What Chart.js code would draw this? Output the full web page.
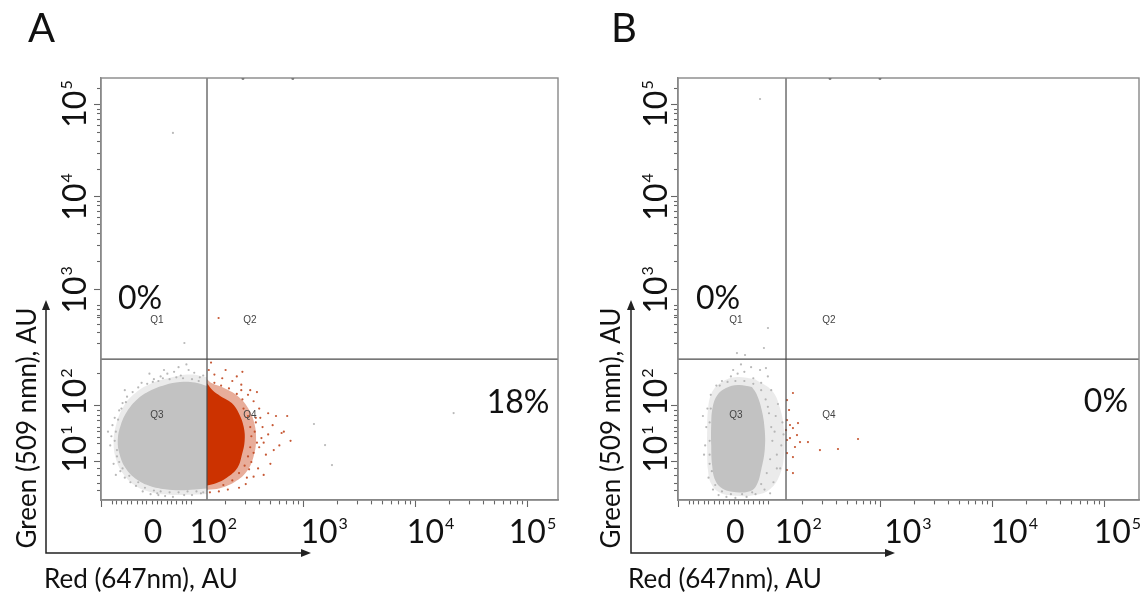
<!DOCTYPE html>
<html>
<head>
<meta charset="utf-8">
<script src="https://cdn.jsdelivr.net/npm/chart.js@4.4.1/dist/chart.umd.min.js"></script>
<style>
  html, body { margin: 0; padding: 0; background: #fff; }
  #wrap { position: relative; width: 1147px; height: 597px; overflow: hidden; }
  canvas { position: absolute; top: 0; }
</style>
</head>
<body>
<div id="wrap">
  <canvas id="panelA" width="580" height="597" style="left:0"></canvas>
  <canvas id="panelB" width="567" height="597" style="left:580px"></canvas>
</div>
<script>
// all positions are in decades of the logicle display (10^2 -> 2, 10^3 -> 3 ...)

// axis ticks
const xMajorTicks = [1.196, 3, 4, 5];
const xMinorTicks = [1.286, 1.330, 1.375, 1.420, 1.464, 1.509, 1.554, 1.598, 1.643, 1.688, 1.732, 1.777,
  1.821, 1.866, 1.911, 1.955, 2.0,
  2.301, 2.477, 2.602, 2.699, 2.778, 2.845, 2.903, 2.954,
  3.301, 3.477, 3.602, 3.699, 3.778, 3.845, 3.903, 3.954,
  4.301, 4.477, 4.602, 4.699, 4.778, 4.845, 4.903, 4.954];
const yMajorTicks = [5, 4, 3, 1.739, 1.12];
const yMinorTicks = [5.176,
  4.301, 4.477, 4.602, 4.699, 4.778, 4.845, 4.903, 4.954,
  3.301, 3.477, 3.602, 3.699, 3.778, 3.845, 3.903, 3.954,
  2.826, 2.772, 2.717, 2.685, 2.609, 2.522, 2.413, 2.087,
  1.685, 1.630, 1.576, 1.5, 1.446, 1.391, 1.326, 1.217,
  1.054, 0.978, 0.891, 0.815];

// tick labels (typed over the plot, not exactly on the ticks)
const tickBase = ['0', '10', '10', '10', '10'];
const xTickExp = ['', '2', '3', '4', '5'];
const yTickBase = ['10', '10', '10', '10', '10'];
const yTickExp = ['5', '4', '3', '2', '1'];
const xLabelPosA = [1.652, 2.19, 3.18, 4.13, 5.04];
const xLabelPosB = [1.70, 2.26, 3.24, 4.19, 5.11];
const yLabelPos = [5.01, 4.0, 2.99, 1.88, 1.26];

const quadrantNames = ['Q1', 'Q2', 'Q3', 'Q4'];
const percentA = ['0%', '18%'];
const percentB = ['0%', '0%'];
const gateX = [2.134, 2.152];
const gateY = [2.239, 2.239];

// panel A: dense part of the cloud (outline) and the lighter rim
const grayHaloA = [[2.134,2.04],[1.982,2.07],[1.804,2.035],[1.625,1.968],[1.480,1.855],[1.380,1.705],
  [1.322,1.522],[1.300,1.337],[1.322,1.150],[1.382,0.998],[1.485,0.870],[1.625,0.795],[1.804,0.765],
  [1.982,0.765],[2.134,0.772]];
const grayCoreA = [[2.134,1.945],[2.027,1.985],[1.893,1.99],[1.759,1.958],[1.625,1.895],[1.512,1.803],
  [1.420,1.670],[1.364,1.522],[1.337,1.359],[1.355,1.196],[1.410,1.048],[1.500,0.935],[1.625,0.858],
  [1.759,0.823],[1.893,0.812],[2.027,0.822],[2.134,0.832]];
const redHaloA = [[2.134,0.818],[2.25,0.835],[2.384,0.905],[2.49,1.02],[2.55,1.18],[2.572,1.359],
  [2.556,1.543],[2.500,1.707],[2.405,1.840],[2.286,1.925],[2.179,1.975],[2.134,2.02]];
const redCoreA = [[2.134,0.865],[2.214,0.890],[2.310,0.950],[2.405,1.055],[2.445,1.196],[2.470,1.348],
  [2.462,1.5],[2.420,1.645],[2.355,1.760],[2.255,1.835],[2.179,1.905],[2.134,1.975]];
const graySpecksA = [[1.28,1.40],[1.27,1.30],[1.29,1.52],[1.31,1.60],[1.33,1.18],[1.30,1.10],[1.35,1.68],
  [1.38,1.76],[1.36,1.02],[1.40,0.95],[1.45,0.90],[1.42,1.83],[1.47,1.88],[1.52,1.93],[1.50,0.86],
  [1.56,0.80],[1.60,1.97],[1.66,2.02],[1.63,0.77],[1.70,0.76],[1.72,2.05],[1.78,2.08],[1.76,0.75],
  [1.84,2.10],[1.83,0.74],[1.90,2.06],[1.93,0.76],[1.97,2.12],[2.02,2.09],[2.00,0.76],[2.07,2.04],
  [2.08,0.78],[1.88,2.15],[1.75,2.12],[1.55,1.98],[1.25,1.45],[1.32,0.98],[1.95,2.18],[1.62,2.08],
  [1.40,1.90],[1.65,1.99],[1.70,2.00],[1.80,2.02],[1.86,2.04],[1.92,2.03],[2.00,2.02],[2.06,2.00],
  [2.10,2.06],[1.74,2.03],[1.32,1.45],[1.31,1.35],[1.33,1.25],[1.34,1.58],[1.37,1.70],[1.41,1.77],
  [1.35,1.12],[1.38,1.05],[1.44,0.97],[1.52,0.90],[1.58,0.84],[1.66,0.81],[1.72,0.80],[1.80,0.79],
  [1.88,0.79],[1.96,0.80],[2.04,0.80],[2.10,0.79],[1.69,0.78],
  [1.932,2.413],[3.089,1.533],[3.188,1.304],[3.25,1.087],[4.336,1.652],[1.83,4.696]];
const redSpecksA = [[2.50,1.85],[2.55,1.78],[2.60,1.70],[2.57,1.60],[2.63,1.50],[2.68,1.42],[2.72,1.52],
  [2.60,1.28],[2.66,1.20],[2.70,1.10],[2.59,1.05],[2.55,0.96],[2.48,0.88],[2.42,0.84],[2.32,0.82],
  [2.82,1.45],[2.85,1.62],[2.78,1.30],[2.64,0.98],[2.52,1.90],[2.44,1.96],[2.36,2.00],[2.27,2.03],
  [2.20,2.07],[2.15,2.12],[2.30,2.12],[2.40,2.05],[2.17,2.20],[2.62,1.38],[2.75,1.62],[2.53,1.12],
  [2.58,1.88],[2.45,2.10],[2.24,0.80],[2.16,0.79],[2.68,1.65],[2.73,1.25],[2.88,1.35],[2.80,1.435],
  [2.46,1.70],[2.50,1.62],[2.52,1.50],[2.53,1.40],[2.52,1.28],[2.50,1.18],[2.47,1.08],[2.42,1.00],
  [2.36,0.92],[2.28,0.87],[2.45,1.80],[2.40,1.86],[2.33,1.92],[2.26,1.95],[2.20,1.98],[2.56,1.45],
  [2.58,1.33],[2.55,1.22],[2.49,0.95],[2.57,1.55],[2.61,1.60],[2.64,1.33],[2.51,1.04],[2.44,1.90],
  [2.2375,2.685]];
const edgeDotsA = [[2.455,5.29],[2.90,5.29]];

// panel B
const grayHaloB = [[1.875,2.02],[1.696,2.04],[1.5625,1.975],[1.485,1.860],[1.455,1.685],[1.448,1.467],
  [1.448,1.25],[1.455,1.033],[1.485,0.880],[1.5625,0.785],[1.705,0.752],[1.875,0.762],[2.009,0.825],
  [2.098,0.985],[2.134,1.196],[2.134,1.467],[2.098,1.707],[2.027,1.895],[1.875,2.02]];
const grayCoreB = [[1.848,1.935],[1.723,1.956],[1.616,1.923],[1.538,1.845],[1.496,1.707],[1.484,1.522],
  [1.484,1.304],[1.492,1.087],[1.522,0.915],[1.590,0.826],[1.705,0.792],[1.830,0.802],[1.890,0.870],
  [1.930,1.033],[1.962,1.25],[1.962,1.467],[1.935,1.685],[1.890,1.855],[1.848,1.935]];
const graySpecksB = [[1.44,1.50],[1.43,1.30],[1.45,1.70],[1.47,1.10],[1.46,0.95],[1.50,0.82],[1.48,1.85],
  [1.53,1.95],[1.58,2.00],[1.55,0.76],[1.62,0.74],[1.66,2.05],[1.72,2.08],[1.70,0.73],[1.78,2.10],
  [1.80,0.74],[1.86,2.03],[1.88,0.77],[1.93,1.98],[1.96,0.82],[2.02,1.90],[2.04,0.90],[2.08,1.75],
  [2.10,1.05],[2.12,1.55],[2.11,1.30],[2.06,1.62],[2.07,1.20],[1.99,2.05],[1.84,2.15],[1.75,2.18],
  [1.68,2.12],[1.92,2.12],[1.41,1.62],[1.42,1.20],[2.13,1.42],[2.01,0.78],[1.59,0.70],
  [1.47,1.55],[1.47,1.35],[1.47,1.20],[1.48,1.70],[1.49,1.02],[1.52,0.87],[1.56,1.95],[1.63,1.99],
  [1.70,2.00],[1.78,2.00],[1.86,1.97],[1.93,1.90],[1.97,1.80],[2.00,1.65],[2.02,1.50],[2.03,1.35],
  [2.01,1.15],[1.98,1.00],[1.93,0.88],[1.85,0.79],[1.76,0.77],[1.66,0.77],[1.58,0.80],[2.05,1.45],
  [2.07,1.05],[1.99,1.72],
  [1.714,2.304],[1.786,2.283],[1.991,2.576],[1.955,2.359],[1.973,2.141],[1.92,5.065]];
const redSpecksB = [[2.214,1.870],[2.161,1.576],[2.1875,1.522],[2.214,1.489],[2.259,1.543],[2.25,1.413],
  [2.161,1.359],[2.1875,1.380],[2.277,1.337],[2.232,1.283],[2.348,1.337],[2.161,1.217],[2.214,1.174],
  [2.455,1.25],[2.616,1.261],[2.795,1.370],[2.161,1.033],[2.214,1.0],[2.161,1.793],[2.179,1.685],
  [2.152,1.467]];
const edgeDotsB = [[2.545,5.29],[2.991,5.29]];

const grayCore = 'rgb(194,194,194)';
const grayRim = 'rgba(194,194,194,0.32)';
const graySpeck = 'rgba(176,176,176,0.9)';
const redCore = 'rgb(204,50,0)';
const redRim = 'rgba(200,60,15,0.42)';
const redSpeck = 'rgba(192,70,30,0.9)';

const pts = (arr) => arr.map(([x, y]) => ({ x, y }));

function blob(data, color, order) {
  return { type: 'line', data: pts(data), fill: 'shape', backgroundColor: color,
    borderColor: 'rgba(0,0,0,0)', borderWidth: 0, pointRadius: 0, tension: 0.4, order };
}
function specks(data, color, r, order) {
  return { type: 'scatter', data: pts(data), backgroundColor: color, borderWidth: 0,
    pointRadius: r, order };
}
function gate(data, order) {
  return { type: 'line', data, borderColor: '#4a4a4a', borderWidth: 1.2, pointRadius: 0,
    fill: false, tension: 0, order };
}

const majorOf = (list) => (c) => (c.tick && list.indexOf(c.tick.value) >= 0 ? [] : [4, 3]);

function makeScales(xMin, xMax, yMin, yMax) {
  return {
    x: {
      type: 'linear', position: 'bottom', min: xMin, max: xMax,
      afterBuildTicks: (s) => { s.ticks = xMajorTicks.concat(xMinorTicks).map((v) => ({ value: v })); },
      afterFit: (s) => { s.height = 8; },
      ticks: { display: false, autoSkip: false },
      grid: { drawOnChartArea: false, tickLength: 7, tickWidth: 1.1, tickColor: '#666',
        tickBorderDash: majorOf(xMajorTicks) },
      border: { color: '#888', width: 1.4 }
    },
    y: {
      type: 'linear', position: 'left', min: yMin, max: yMax,
      afterBuildTicks: (s) => { s.ticks = yMajorTicks.concat(yMinorTicks).map((v) => ({ value: v })); },
      afterFit: (s) => { s.width = 8; },
      ticks: { display: false, autoSkip: false },
      grid: { drawOnChartArea: false, tickLength: 7, tickWidth: 1.1, tickColor: '#666',
        tickBorderDash: majorOf(yMajorTicks),
        tickBorderDashOffset: (c) => (c.tick && yMajorTicks.indexOf(c.tick.value) >= 0 ? 0 : 4) },
      border: { color: '#888', width: 1.4 }
    }
  };
}

function drawPow(ctx, base, exp, cx, by) {
  ctx.font = '32px Lato';
  const wb = ctx.measureText(base).width;
  ctx.font = '16px Lato';
  const we = exp ? ctx.measureText(exp).width + 1 : 0;
  const sx = cx - (wb + we) / 2;
  ctx.textAlign = 'left';
  ctx.font = '32px Lato';
  ctx.fillText(base, sx, by);
  if (exp) {
    ctx.font = '16px Lato';
    ctx.fillText(exp, sx + wb + 1, by - 14);
  }
}

function arrowHead(ctx, x, y, dir) {
  ctx.beginPath();
  if (dir === 'up') { ctx.moveTo(x, y); ctx.lineTo(x - 4, y + 10); ctx.lineTo(x + 4, y + 10); }
  else { ctx.moveTo(x, y); ctx.lineTo(x - 10, y - 4); ctx.lineTo(x - 10, y + 4); }
  ctx.closePath();
  ctx.fill();
}

const decoPlugin = {
  id: 'deco',
  afterDatasetsDraw(chart, args, o) {
    const { ctx, chartArea: a } = chart;
    const sx = chart.scales.x, sy = chart.scales.y;
    ctx.save();
    ctx.strokeStyle = '#888';
    ctx.lineWidth = 1.4;
    ctx.strokeRect(a.left, a.top, a.right - a.left, a.bottom - a.top);

    ctx.fillStyle = '#444';
    ctx.font = '10px "Liberation Sans"';
    ctx.textAlign = 'center';
    ctx.textBaseline = 'middle';
    o.quadPos.forEach((p, i) => ctx.fillText(quadrantNames[i], sx.getPixelForValue(p[0]), sy.getPixelForValue(p[1])));

    ctx.textBaseline = 'alphabetic';
    ctx.fillStyle = '#111';
    ctx.font = '32px Lato';
    o.percent.forEach((t, i) => ctx.fillText(t, sx.getPixelForValue(o.percentPos[i][0]), sy.getPixelForValue(o.percentPos[i][1])));

    o.xLabelPos.forEach((v, i) => drawPow(ctx, tickBase[i], xTickExp[i], sx.getPixelForValue(v), a.bottom + 43));
    yLabelPos.forEach((v, i) => {
      ctx.save();
      ctx.translate(o.yLabelX, sy.getPixelForValue(v));
      ctx.rotate(-Math.PI / 2);
      drawPow(ctx, yTickBase[i], yTickExp[i], 0, 0);
      ctx.restore();
    });

    ctx.textAlign = 'left';
    ctx.font = '40px Lato';
    ctx.fillText(o.title, o.titleX, 42);

    // axis arrows
    ctx.strokeStyle = '#222';
    ctx.fillStyle = '#222';
    ctx.lineWidth = 1.5;
    ctx.beginPath();
    ctx.moveTo(o.arrowX, o.arrowTop + 6);
    ctx.lineTo(o.arrowX, o.arrowY);
    ctx.lineTo(o.arrowRight - 6, o.arrowY);
    ctx.stroke();
    arrowHead(ctx, o.arrowX, o.arrowTop, 'up');
    arrowHead(ctx, o.arrowRight, o.arrowY, 'right');

    ctx.fillStyle = '#111';
    ctx.font = '26px Lato';
    ctx.textAlign = 'left';
    ctx.fillText(o.xTitle, o.xTitleX, 588);
    ctx.save();
    ctx.translate(o.yTitleX, 428);
    ctx.rotate(-Math.PI / 2);
    ctx.textAlign = 'center';
    ctx.fillText(o.yTitle, 0, 0);
    ctx.restore();
    ctx.restore();
  }
};

function panel(id, cfg) {
  const xr = [cfg.xMin, cfg.xMax], yr = [0.707, 5.293];
  const datasets = [
    blob(cfg.grayHalo, grayRim, 20),
    blob(cfg.grayCore, grayCore, 19),
    specks(cfg.graySpecks, graySpeck, 1.1, 18),
    specks(cfg.redSpecks, redSpeck, 1.1, 15),
    gate([{ x: cfg.gx, y: yr[0] }, { x: cfg.gx, y: yr[1] }], 5),
    gate([{ x: xr[0], y: cfg.gy }, { x: xr[1], y: cfg.gy }], 5),
    specks(cfg.edgeDots, '#555', 1.5, 4)
  ];
  if (cfg.redHalo) {
    datasets.push(blob(cfg.redHalo, redRim, 17));
    datasets.push(blob(cfg.redCore, redCore, 16));
  }
  new Chart(document.getElementById(id), {
    type: 'scatter',
    data: { datasets },
    options: {
      responsive: false,
      animation: false,
      events: [],
      layout: { padding: cfg.padding },
      scales: makeScales(xr[0], xr[1], yr[0], yr[1]),
      plugins: {
        legend: { display: false },
        tooltip: { enabled: false },
        deco: cfg.deco
      }
    },
    plugins: [decoPlugin]
  });
}

panel('panelA', {
  xMin: 1.1875, xMax: 5.268, gx: gateX[0], gy: gateY[0],
  grayHalo: grayHaloA, grayCore: grayCoreA, graySpecks: graySpecksA,
  redHalo: redHaloA, redCore: redCoreA, redSpecks: redSpecksA, edgeDots: edgeDotsA,
  padding: { left: 93, top: 78, right: 22, bottom: 89 },
  deco: {
    title: 'A', titleX: 28,
    xLabelPos: xLabelPosA, yLabelX: 86,
    percent: percentA, percentPos: [[1.536, 2.783], [4.911, 1.652]],
    quadPos: [[1.6875, 2.663], [2.518, 2.663], [1.6875, 1.63], [2.518, 1.63]],
    arrowX: 46, arrowY: 553, arrowTop: 300, arrowRight: 311,
    xTitle: 'Red (647nm), AU', xTitleX: 44,
    yTitle: 'Green (509 nmn), AU', yTitleX: 36
  }
});

panel('panelB', {
  xMin: 1.1875, xMax: 5.304, gx: gateX[1], gy: gateY[1],
  grayHalo: grayHaloB, grayCore: grayCoreB, graySpecks: graySpecksB,
  redSpecks: redSpecksB, edgeDots: edgeDotsB,
  padding: { left: 90, top: 78, right: 8, bottom: 89 },
  deco: {
    title: 'B', titleX: 31,
    xLabelPos: xLabelPosB, yLabelX: 87,
    percent: percentB, percentPos: [[1.545, 2.783], [5.009, 1.663]],
    quadPos: [[1.705, 2.663], [2.536, 2.663], [1.705, 1.63], [2.536, 1.63]],
    arrowX: 51, arrowY: 553, arrowTop: 300, arrowRight: 315,
    xTitle: 'Red (647nm), AU', xTitleX: 48,
    yTitle: 'Green (509 nmn), AU', yTitleX: 40
  }
});
</script>
</body>
</html>
